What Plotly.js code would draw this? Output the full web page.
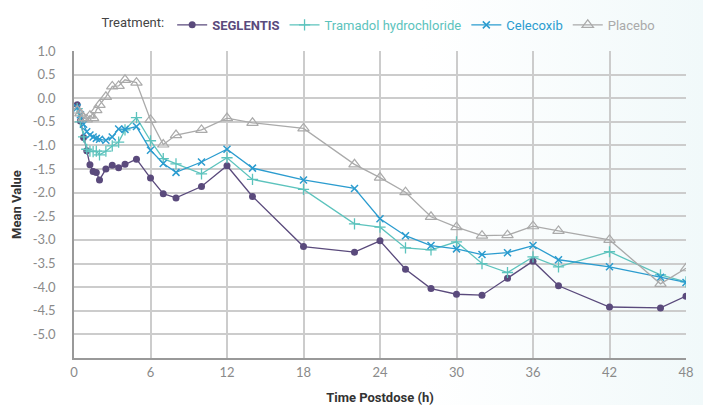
<!DOCTYPE html>
<html>
<head>
<meta charset="utf-8">
<script src="https://cdn.plot.ly/plotly-3.0.1.min.js"></script>
<style>
  html, body { margin: 0; padding: 0; }
  body { width: 703px; height: 405px; overflow: hidden;
         background: linear-gradient(90deg, #ffffff 0%, #ffffff 60%, #f1f9fa 100%); }
  #chart { width: 703px; height: 405px; }
</style>
</head>
<body>
<div id="chart"></div>
<script>
// Time points (h)
const times = [0.25, 0.5, 0.75, 1, 1.25, 1.5, 1.75, 2, 2.5, 3, 3.5, 4, 4.9, 6, 7, 8, 10, 12, 14, 18, 22, 24, 26, 28, 30, 32, 34, 36, 38, 42, 46, 48];

// Mean values per treatment
const seglentis = [-0.14, -0.48, -0.83, -1.11, -1.41, -1.55, -1.57, -1.73, -1.50, -1.42, -1.47, -1.40, -1.29, -1.69, -2.02, -2.11, -1.87, -1.43, -2.08, -3.14, -3.26, -3.02, -3.62, -4.03, -4.15, -4.17, -3.81, -3.45, -3.97, -4.42, -4.44, -4.19];
const tramadol  = [-0.22, -0.50, -0.82, -1.08, -1.12, -1.13, -1.12, -1.20, -1.12, -1.01, -0.93, -0.67, -0.41, -0.90, -1.28, -1.39, -1.60, -1.26, -1.72, -1.93, -2.66, -2.73, -3.17, -3.21, -3.04, -3.50, -3.69, -3.36, -3.57, -3.25, -3.74, -3.89];
const celecoxib = [-0.20, -0.35, -0.55, -0.71, -0.78, -0.82, -0.85, -0.87, -0.89, -0.82, -0.65, -0.66, -0.60, -1.10, -1.38, -1.57, -1.35, -1.08, -1.48, -1.73, -1.91, -2.55, -2.91, -3.12, -3.19, -3.31, -3.27, -3.12, -3.42, -3.57, -3.79, -3.90];
const placebo   = [-0.26, -0.32, -0.42, -0.45, -0.37, -0.42, -0.25, -0.14, 0.03, 0.25, 0.26, 0.39, 0.33, -0.46, -0.98, -0.78, -0.67, -0.42, -0.52, -0.64, -1.40, -1.68, -1.99, -2.51, -2.73, -2.91, -2.90, -2.71, -2.81, -3.00, -3.93, -3.60];

const seriesNames = ['SEGLENTIS', 'Tramadol hydrochloride', 'Celecoxib', 'Placebo'];

// Axis ticks
const yTickVals = [1.0, 0.5, 0.0, -0.5, -1.0, -1.5, -2.0, -2.5, -3.0, -3.5, -4.0, -4.5, -5.0];
const yTickText = ['1.0', '0.5', '0.0', '-0.5', '-1.0', '-1.5', '-2.0', '-2.5', '-3.0', '-3.5', '-4.0', '-4.5', '-5.0'];
const xTickVals = [0, 6, 12, 18, 24, 30, 36, 42, 48];

const cPurple = '#5a4a7c', cTeal = '#5cc3bd', cBlue = '#2b9ccf', cGrey = '#aaaaaa';

const traces = [
  { x: times, y: seglentis, name: '<b><span style="color:' + cPurple + '">' + seriesNames[0] + '</span></b>',
    mode: 'lines+markers', line: { color: cPurple, width: 1.3 },
    marker: { symbol: 'circle', size: 7, color: cPurple } },
  { x: times, y: tramadol, name: '<span style="color:' + cTeal + '">' + seriesNames[1] + '</span>',
    mode: 'lines+markers', line: { color: cTeal, width: 1.3 },
    marker: { symbol: 'cross-thin', size: 8, color: cTeal, line: { color: cTeal, width: 1.3 } } },
  { x: times, y: celecoxib, name: '<span style="color:' + cBlue + '">' + seriesNames[2] + '</span>',
    mode: 'lines+markers', line: { color: cBlue, width: 1.3 },
    marker: { symbol: 'x-thin', size: 7, color: cBlue, line: { color: cBlue, width: 1.5 } } },
  { x: times, y: placebo, name: '<span style="color:' + cGrey + '">' + seriesNames[3] + '</span>',
    mode: 'lines+markers', line: { color: cGrey, width: 1.3 },
    marker: { symbol: 'triangle-up-open', size: 10, color: cGrey, line: { color: cGrey, width: 1.2 } } }
];

const layout = {
  width: 703, height: 405,
  margin: { l: 74, r: 17, t: 51, b: 47, autoexpand: false },
  paper_bgcolor: 'rgba(0,0,0,0)',
  plot_bgcolor: 'rgba(0,0,0,0)',
  font: { family: 'Roboto, "Open Sans", sans-serif', color: '#444' },
  showlegend: true,
  legend: {
    orientation: 'h', x: 0.5, xanchor: 'center', y: 1.085, yanchor: 'middle',
    font: { size: 13, family: 'Roboto, sans-serif' },
    title: { text: 'Treatment:', font: { size: 13, color: '#444', family: 'Roboto, sans-serif' }, side: 'left' },
    bgcolor: 'rgba(0,0,0,0)', itemwidth: 30, traceorder: 'normal'
  },
  xaxis: {
    range: [0, 48], tickvals: xTickVals, ticktext: xTickVals.map(String),
    showgrid: true, gridcolor: '#cccccc', gridwidth: 1.5,
    showline: true, linecolor: '#999999', linewidth: 1.5,
    zeroline: false, ticks: '', ticklabelstandoff: 2,
    tickfont: { size: 13, color: '#8a8a8a', family: 'Lato, "Open Sans", sans-serif' },
    title: { text: '<b>Time Postdose (h)</b>', font: { size: 13, color: '#333', family: 'Roboto, sans-serif' }, standoff: 14 }
  },
  yaxis: {
    range: [-5.5, 1.0], tickvals: yTickVals, ticktext: yTickText,
    showgrid: true, gridcolor: '#cccccc', gridwidth: 1.5,
    showline: true, linecolor: '#999999', linewidth: 1.5,
    zeroline: false, ticks: '', ticklabelstandoff: 14,
    tickfont: { size: 13, color: '#8a8a8a', family: 'Lato, "Open Sans", sans-serif' },
    title: { text: '<b>Mean Value</b>', font: { size: 13, color: '#333', family: 'Roboto, sans-serif' }, standoff: 8 }
  }
};

Plotly.newPlot('chart', traces, layout, { displayModeBar: false, responsive: false });
</script>
</body>
</html>
